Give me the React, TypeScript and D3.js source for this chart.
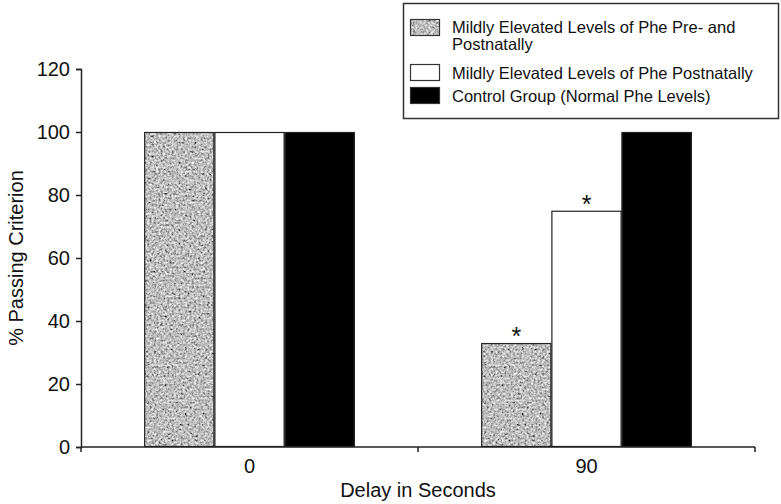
import { useEffect, useRef } from 'react';
import * as d3 from 'd3';

// delay categories (x axis)
const delays = ['0', '90'];
// series
const groups = ['prePost', 'post', 'control'];
const groupLabels = [
  ['Mildly Elevated Levels of Phe Pre- and', 'Postnatally'],
  ['Mildly Elevated Levels of Phe Postnatally'],
  ['Control Group (Normal Phe Levels)'],
];
// % passing criterion, one value per delay
const prePostValues = [100, 33];
const postValues = [100, 75];
const controlValues = [100, 100];
// asterisks (significant difference) per series and delay
const prePostStars = [false, true];
const postStars = [false, true];
const controlStars = [false, false];
const yTicks = [0, 20, 40, 60, 80, 100, 120];

const FONT = 'Arial, "Liberation Sans", Helvetica, sans-serif';

export default function App() {
  const ref = useRef<SVGSVGElement | null>(null);

  useEffect(() => {
    const svg = d3.select(ref.current);
    svg.selectAll('*').remove();

    const margin = { top: 69, left: 81, right: 26, bottom: 57 };
    const W = 781, H = 504;

    const rows = delays.map((d, i) => ({
      delay: d,
      values: [
        { key: 'prePost', value: prePostValues[i], star: prePostStars[i] },
        { key: 'post', value: postValues[i], star: postStars[i] },
        { key: 'control', value: controlValues[i], star: controlStars[i] },
      ],
    }));

    const x0 = d3.scaleBand().domain(delays).range([margin.left, W - margin.right]).padding(0);
    const x1 = d3.scaleBand().domain(groups).range([0, x0.bandwidth()]).paddingInner(0).paddingOuter(0.9);
    const y = d3.scaleLinear().domain([0, 120]).range([H - margin.bottom, margin.top]);

    // noise texture for the first series
    const defs = svg.append('defs');
    const f = defs.append('filter').attr('id', 'noise')
      .attr('x', 0).attr('y', 0).attr('width', '100%').attr('height', '100%')
      .attr('filterUnits', 'objectBoundingBox');
    f.append('feTurbulence').attr('type', 'fractalNoise').attr('baseFrequency', 0.45)
      .attr('numOctaves', 2).attr('seed', 4).attr('result', 't');
    f.append('feColorMatrix').attr('in', 't').attr('type', 'matrix')
      .attr('values', '0.33 0.33 0.33 0 0  0.33 0.33 0.33 0 0  0.33 0.33 0.33 0 0  0 0 0 0 1')
      .attr('result', 'g');
    const ct = f.append('feComponentTransfer').attr('in', 'g').attr('result', 'c');
    ['feFuncR', 'feFuncG', 'feFuncB'].forEach((fn) =>
      ct.append(fn).attr('type', 'linear').attr('slope', 2.2).attr('intercept', -0.58));
    f.append('feComposite').attr('in', 'c').attr('in2', 'SourceGraphic').attr('operator', 'in');

    const fills: Record<string, string> = { prePost: '#8a8a8a', post: '#ffffff', control: '#000000' };

    const g = svg.selectAll('.grp').data(rows).enter().append('g')
      .attr('transform', (d) => `translate(${x0(d.delay)},0)`);

    // textured fill layer
    g.selectAll('.bar').data((d) => d.values).enter().append('rect')
      .attr('x', (d) => x1(d.key)!)
      .attr('y', (d) => y(d.value))
      .attr('width', x1.bandwidth())
      .attr('height', (d) => y(0) - y(d.value))
      .attr('fill', (d) => fills[d.key])
      .attr('filter', (d) => (d.key === 'prePost' ? 'url(#noise)' : null));
    // outline
    g.selectAll('.outline').data((d) => d.values).enter().append('rect')
      .attr('x', (d) => x1(d.key)! + 0.5)
      .attr('y', (d) => y(d.value) + 0.5)
      .attr('width', x1.bandwidth() - 1)
      .attr('height', (d) => y(0) - y(d.value) - 1)
      .attr('fill', 'none')
      .attr('stroke', '#222')
      .attr('stroke-width', 1.2);

    g.selectAll('.star').data((d) => d.values.filter((v) => v.star)).enter().append('text')
      .attr('x', (d) => x1(d.key)! + x1.bandwidth() / 2)
      .attr('y', (d) => y(d.value) + 2)
      .attr('text-anchor', 'middle')
      .style('font-family', FONT).style('font-size', '25px').attr('fill', '#111')
      .text('*');

    // axes
    const axisColor = '#222';
    const yAxis = svg.append('g').attr('transform', `translate(${margin.left},0)`)
      .call(d3.axisLeft(y).tickValues(yTicks).tickSize(5).tickPadding(6));
    const xAxis = svg.append('g').attr('transform', `translate(0,${y(0)})`)
      .call(d3.axisBottom(x0).tickSize(0).tickPadding(12));
    [yAxis, xAxis].forEach((a) => {
      a.select('.domain').attr('stroke', axisColor).attr('stroke-width', 1.5);
      a.selectAll('line').attr('stroke', axisColor).attr('stroke-width', 1.5);
      a.selectAll('text').style('font-family', FONT).style('font-size', '20px').attr('fill', '#111');
    });
    // category boundary ticks on x axis
    const bounds = [margin.left, ...delays.map((d) => x0(d)! + x0.bandwidth())];
    xAxis.selectAll('.bound').data(bounds).enter().append('line')
      .attr('x1', (d) => d).attr('x2', (d) => d).attr('y1', 0).attr('y2', 5)
      .attr('stroke', axisColor).attr('stroke-width', 1.5);
    xAxis.select('.domain').attr('d', `M${margin.left},0H${W - margin.right}`);

    svg.append('text')
      .attr('x', (margin.left + W - margin.right) / 2).attr('y', 497)
      .attr('text-anchor', 'middle')
      .style('font-family', FONT).style('font-size', '20px').attr('fill', '#111')
      .text('Delay in Seconds');
    svg.append('text')
      .attr('transform', `translate(23,${(y(0) + y(120)) / 2}) rotate(-90)`)
      .attr('text-anchor', 'middle')
      .style('font-family', FONT).style('font-size', '20px').attr('fill', '#111')
      .text('% Passing Criterion');

    // legend
    const lg = svg.append('g');
    lg.append('rect').attr('x', 403.5).attr('y', 3.5).attr('width', 375).attr('height', 115)
      .attr('fill', '#fff').attr('stroke', '#333').attr('stroke-width', 1.5);
    const swatchY = [19, 64, 87];
    const textY = [[33, 50], [79], [102]];
    groups.forEach((k, i) => {
      lg.append('rect').attr('x', 410).attr('y', swatchY[i]).attr('width', 30).attr('height', 17)
        .attr('fill', fills[k]).attr('filter', k === 'prePost' ? 'url(#noise)' : null);
      lg.append('rect').attr('x', 410.5).attr('y', swatchY[i] + 0.5).attr('width', 29).attr('height', 16)
        .attr('fill', 'none').attr('stroke', '#333').attr('stroke-width', 1.2);
      groupLabels[i].forEach((line, j) => {
        lg.append('text').attr('x', 452).attr('y', textY[i][j])
          .style('font-family', FONT).style('font-size', '16.5px').attr('fill', '#111')
          .text(line);
      });
    });
  }, []);

  return (
    <svg ref={ref} width={781} height={504}
      style={{ position: 'absolute', left: 0, top: 0, background: '#fff' }} />
  );
}
